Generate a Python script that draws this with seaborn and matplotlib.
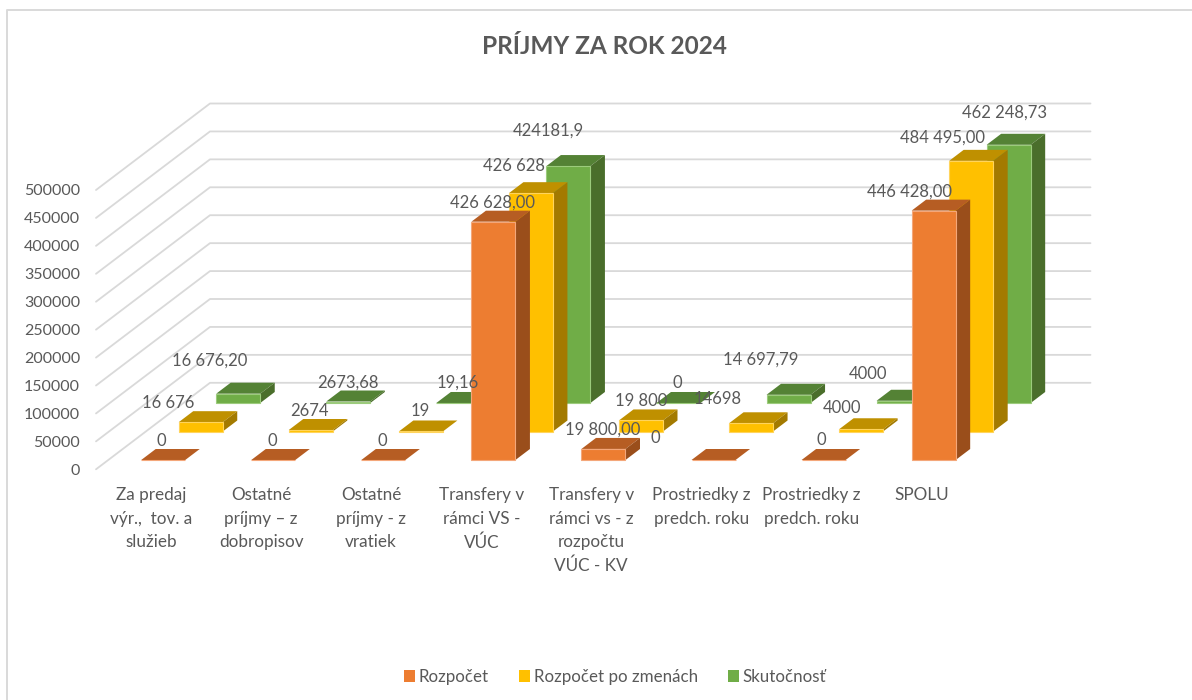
import matplotlib
matplotlib.use('Agg')
import matplotlib.pyplot as plt
import seaborn as sns
import pandas as pd
from matplotlib.lines import Line2D
from matplotlib.patches import Polygon, Patch
from matplotlib.transforms import Affine2D

categories = [
    'Za predaj\nvýr.,  tov. a\nslužieb',
    'Ostatné\npríjmy – z\ndobropisov',
    'Ostatné\npríjmy - z\nvratiek',
    'Transfery v\nrámci VS -\nVÚC',
    'Transfery v\nrámci vs - z\nrozpočtu\nVÚC - KV',
    'Prostriedky z\npredch. roku',
    'Prostriedky z\npredch. roku',
    'SPOLU',
]
series_names = ['Rozpočet', 'Rozpočet po zmenách', 'Skutočnosť']

rozpocet = [0, 0, 0, 426628, 19800, 0, 0, 446428]
po_zmenach = [16676, 2674, 19, 426628, 19800, 14698, 4000, 484495]
skutocnost = [16676.20, 2673.68, 19.16, 424181.9, 0, 14697.79, 4000, 462248.73]

rozpocet_labels = ['0', '0', '0', '426 628,00', '19 800,00', '0', '0', '446 428,00']
po_zmenach_labels = ['16 676', '2674', '19', '426 628', '19 800', '14698', '4000', '484 495,00']
skutocnost_labels = ['16 676,20', '2673,68', '19,16', '424181,9', '0', '14 697,79', '4000', '462 248,73']

# hand placed labels in the original, pixels from the top of each bar
rozpocet_nudge = [(-2, 19), (-1, 19), (-1, 19), (-1, 19), (-1, 19), (-58, 22), (-2, 20), (-24, 19)]
po_zmenach_nudge = [(-33, 19), (-1, 19), (-1, 20), (-17, 27), (0, 19), (-33, 24), (-19, 21), (-29, 23)]
skutocnost_nudge = [(-29, 33), (0, 19), (-1, 20), (-20, 35), (-1, 20), (-28, 35), (-31, 27), (-4, 32)]

face_colors = ['#ED7D31', '#FFC000', '#70AD47']
edge_colors = ['#F4A77A', '#FFD45C', '#9CCB7C']
top_colors = ['#B65D23', '#BF9000', '#548235']
side_colors = ['#9A4E1B', '#A37A00', '#4A6E2B']
TEXT = '#595959'
GRID = '#D9D9D9'

# oblique projection, pixels
WALL = (114, 86.5)      # floor depth
STEP = (37.5, 28.5)     # from one series to the next
GAP = (12.2, 9.3)       # floor edge to first series
BAR = (14.5, 11)        # depth of one bar

sns.set_theme(style='white')
plt.rcParams['font.family'] = ['Lato', 'DejaVu Sans']

fig = plt.figure(figsize=(11.92, 7), dpi=100)
# the chart frame is cut off by the screenshot, only top and left are left
fig.add_artist(Line2D([7.5 / 1192, 7.5 / 1192, 1], [0, 690.5 / 700, 690.5 / 700],
                      color=GRID, linewidth=1.4, transform=fig.transFigure))
ax = fig.add_axes([96 / 1192, (700 - 469.3) / 700, 880.5 / 1192, 279.3 / 700])
ax.patch.set_alpha(0)


def shifted(dx, dy):
    return ax.transData + Affine2D().translate(dx, dy)


rows = []
for name, vals in zip(series_names, [rozpocet, po_zmenach, skutocnost]):
    for i, v in enumerate(vals):
        rows.append({'cat': i, 'value': v, 'series': name})
df = pd.DataFrame(rows)

ax.set_ylim(0, 500000)
ticks = list(range(0, 500001, 50000))

# back to front, so the nearer series hides the further one
all_labels = [rozpocet_labels, po_zmenach_labels, skutocnost_labels]
all_nudges = [rozpocet_nudge, po_zmenach_nudge, skutocnost_nudge]
for s in [2, 1, 0]:
    before = len(ax.patches)
    sns.barplot(data=df[df['series'] == series_names[s]], x='cat', y='value', ax=ax,
                color=face_colors[s], saturation=1, width=0.4, zorder=3 + 3 * (2 - s),
                edgecolor=edge_colors[s], linewidth=0.8)
    ox = GAP[0] + s * STEP[0]
    oy = GAP[1] + s * STEP[1]
    for i, bar in enumerate(ax.patches[before:]):
        bar.set_transform(shifted(ox, oy))
        bar.set_clip_on(False)
        x0, y0 = ax.transData.transform((bar.get_x(), 0))
        x1, y1 = ax.transData.transform((bar.get_x() + bar.get_width(), bar.get_height()))
        x0, x1, y0, y1 = x0 + ox, x1 + ox, y0 + oy, y1 + oy
        dx, dy = BAR
        z = 3 + 3 * (2 - s) - 0.5
        ax.add_patch(Polygon([(x0, y1), (x1, y1), (x1 + dx, y1 + dy), (x0 + dx, y1 + dy)],
                             facecolor=top_colors[s], edgecolor='none', transform=None,
                             zorder=z, clip_on=False))
        ax.add_patch(Polygon([(x1, y0), (x1 + dx, y0 + dy), (x1 + dx, y1 + dy), (x1, y1)],
                             facecolor=side_colors[s], edgecolor='none', transform=None,
                             zorder=z, clip_on=False))
        nx, ny = all_nudges[s][i]
        ax.annotate(all_labels[s][i], xy=((x0 + x1) / 2, y1), xycoords='figure pixels',
                    xytext=(nx * 0.72, ny * 0.72), textcoords='offset points',
                    ha='center', va='center', color=TEXT, fontsize=12, zorder=20,
                    annotation_clip=False)

ax.set_xlim(-0.5, 7.5)
ax.set_ylim(0, 500000)

# walls
for t in ticks:
    x0, y0 = ax.transData.transform((-0.5, t))
    x1, _ = ax.transData.transform((7.5, t))
    ax.plot([x0, x0 + WALL[0], x1 + WALL[0]], [y0, y0 + WALL[1], y0 + WALL[1]],
            color=GRID, linewidth=1.3, transform=None, clip_on=False, zorder=1)

ax.set_xticks(range(len(categories)))
ax.set_xticklabels(categories, linespacing=1.56)
ax.set_yticks(ticks)
ax.set_yticklabels([str(t) for t in ticks])
ax.tick_params(axis='x', length=0, pad=13, labelsize=12.3, labelcolor=TEXT)
ax.tick_params(axis='y', length=0, pad=11.5, labelsize=11.5, labelcolor=TEXT)
ax.set_xlabel('')
ax.set_ylabel('')
sns.despine(ax=ax, left=True, bottom=True)

fig.text(604.5 / 1192, (700 - 46.5) / 700, 'PRÍJMY ZA ROK 2024', ha='center', va='center',
         fontsize=17.6, fontweight='bold', color=TEXT)

handles = [Patch(facecolor=c, edgecolor='none', label=n) for c, n in zip(face_colors, series_names)]
fig.legend(handles=handles, loc='center', bbox_to_anchor=(615 / 1192, (700 - 677) / 700), ncols=3,
           frameon=False, fontsize=12.2, handlelength=0.65, handleheight=0.65, handletextpad=0.25,
           columnspacing=1.75, labelcolor=TEXT)

fig.savefig('out.png', dpi=100)
